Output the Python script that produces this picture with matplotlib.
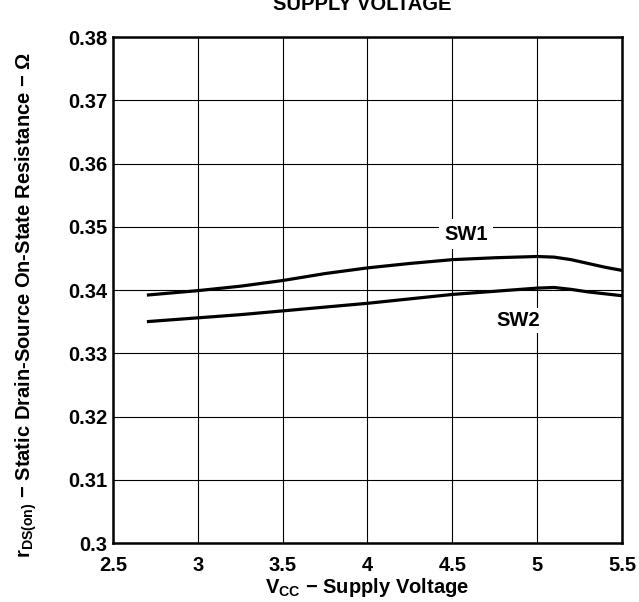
import matplotlib
matplotlib.use("Agg")
import matplotlib.pyplot as plt

# Donnees
vcc = [2.7, 3.0, 3.25, 3.5, 3.75, 4.0, 4.25, 4.5, 4.75, 5.0, 5.1, 5.2, 5.3, 5.4, 5.5]
sw1 = [0.3392, 0.3399, 0.3406, 0.3415, 0.3426, 0.3435, 0.3442, 0.3448, 0.3451, 0.3453,
       0.3452, 0.3448, 0.3442, 0.3436, 0.3431]
sw2 = [0.3350, 0.3356, 0.3361, 0.3367, 0.3373, 0.3379, 0.3386, 0.3393, 0.3398, 0.3403,
       0.3404, 0.3401, 0.3397, 0.3394, 0.3391]

x_ticks = [2.5, 3, 3.5, 4, 4.5, 5, 5.5]
x_labels = ["2.5", "3", "3.5", "4", "4.5", "5", "5.5"]
y_ticks = [0.30, 0.31, 0.32, 0.33, 0.34, 0.35, 0.36, 0.37, 0.38]
y_labels = ["0.3", "0.31", "0.32", "0.33", "0.34", "0.35", "0.36", "0.37", "0.38"]

FS = 14.5


def main():
    plt.rcParams["font.family"] = ["Liberation Sans", "DejaVu Sans"]
    plt.rcParams["font.weight"] = "bold"
    plt.rcParams["mathtext.fontset"] = "custom"
    plt.rcParams["mathtext.rm"] = "Liberation Sans:bold"
    plt.rcParams["mathtext.it"] = "Liberation Sans:bold"
    plt.rcParams["mathtext.bf"] = "Liberation Sans:bold"

    fig = plt.figure(figsize=(6.39, 6.02), dpi=100)
    ax = fig.add_axes([0.1768, 0.098, 0.7966, 0.8405])

    ax.plot(vcc, sw1, color="black", lw=2.3, solid_capstyle="butt", zorder=3)
    ax.plot(vcc, sw2, color="black", lw=2.3, solid_capstyle="butt", zorder=3)

    ax.set_xlim(2.5, 5.5)
    ax.set_ylim(0.30, 0.38)
    ax.set_xticks(x_ticks)
    ax.set_xticklabels(x_labels)
    ax.set_yticks(y_ticks)
    ax.set_yticklabels(y_labels)
    ax.tick_params(length=0, labelsize=FS)
    ax.tick_params(axis="x", pad=9)
    ax.tick_params(axis="y", pad=4)
    for lab in ax.get_xticklabels() + ax.get_yticklabels():
        lab.set_fontweight("bold")

    ax.grid(True, color="black", lw=0.8)
    ax.set_axisbelow(True)
    for sp in ax.spines.values():
        sp.set_linewidth(1.8)

    ax.text(4.58, 0.3488, "SW1", fontsize=FS, fontweight="bold",
            ha="center", va="center", zorder=4,
            bbox=dict(facecolor="white", edgecolor="none", pad=4))
    ax.text(4.89, 0.3352, "SW2", fontsize=FS, fontweight="bold",
            ha="center", va="center", zorder=4,
            bbox=dict(facecolor="white", edgecolor="none", pad=2))

    ax.set_xlabel(r"V$_{CC}$ $-$ Supply Voltage", fontsize=FS, fontweight="bold", labelpad=1)
    ax.set_ylabel(r"r$_{DS(on)}$ $-$ Static Drain-Source On-State Resistance $-$ $\Omega$",
                  fontsize=FS, fontweight="bold")
    ax.yaxis.set_label_coords(-0.145, 0.47)

    fig.text(0.567, 0.993, "SUPPLY VOLTAGE", fontsize=FS, fontweight="bold",
             ha="center", va="center")

    fig.savefig("out.png", dpi=100)
    plt.close(fig)


if __name__ == "__main__":
    main()
